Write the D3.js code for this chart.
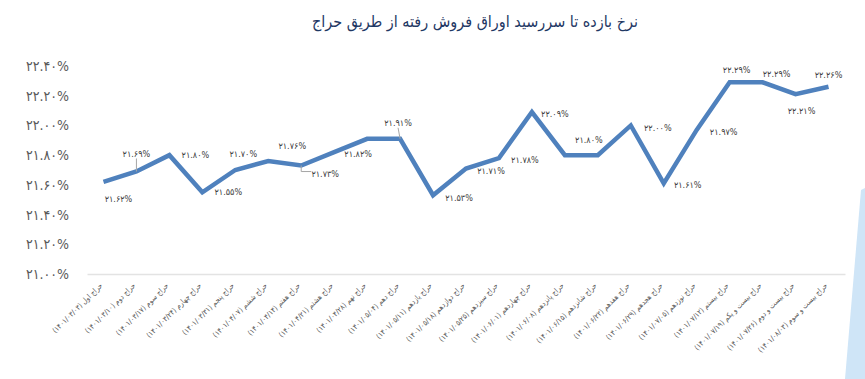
<!DOCTYPE html>
<html>
<head>
<meta charset="utf-8">
<script src="https://cdn.jsdelivr.net/npm/d3@7"></script>
<style>
  body { margin: 0; background: #fff; }
  text { font-family: "DejaVu Sans Condensed", "DejaVu Sans", sans-serif; }
</style>
</head>
<body>
<div class="chart"></div>
<script>
var title = 'نرخ بازده تا سررسید اوراق فروش رفته از طریق حراج'

var categories = [
  'حراج اول (1401/03/03)', 'حراج دوم (1401/03/10)', 'حراج سوم (1401/03/17)',
  'حراج چهارم (1401/03/24)', 'حراج پنجم (1401/03/31)', 'حراج ششم (1401/04/07)',
  'حراج هفتم (1401/04/14)', 'حراج هشتم (1401/04/21)', 'حراج نهم (1401/04/28)',
  'حراج دهم (1401/05/04)', 'حراج یازدهم (1401/05/11)', 'حراج دوازدهم (1401/05/18)',
  'حراج سیزدهم (1401/05/25)', 'حراج چهاردهم (1401/06/01)', 'حراج پانزدهم (1401/06/08)',
  'حراج شانزدهم (1401/06/15)', 'حراج هفدهم (1401/06/22)', 'حراج هجدهم (1401/06/29)',
  'حراج نوزدهم (1401/07/05)', 'حراج بیستم (1401/07/12)', 'حراج بیست و یکم (1401/07/19)',
  'حراج بیست و دوم (1401/07/26)', 'حراج بیست و سوم (1401/08/03)'
]

var yields = [21.62, 21.69, 21.80, 21.55, 21.70, 21.76, 21.73, 21.82, 21.91, 21.91, 21.53, 21.71,
  21.78, 22.09, 21.80, 21.80, 22.00, 21.61, 21.97, 22.29, 22.29, 22.21, 22.26]

var yTicks = [21.0, 21.2, 21.4, 21.6, 21.8, 22.0, 22.2, 22.4]

// where each data label sits relative to its point (null = label hidden by excel)
var labelNudge = [[15, 17], [0, -18], [26, 0], [26, 0], [8, -16], [24, -15], [24, 8], [24, 2],
  null, [-2, -16], [26, 3], [25, 2], [26, 2], [23, 2], [24, -15], null, [27, 2], [24, 1],
  [27, 2], [7, -12], [14, -8], [6, 17], [0, -12]]
var leaders = [1, 6, 9]

var fa = s => String(s).replace(/\d/g, d => '۰۱۲۳۴۵۶۷۸۹'[d])

var svg = d3.select('.chart')
  .append('svg')
    .attr('width', 865)
    .attr('height', 379)

// slide decoration on the right edge
svg.append('path')
  .attr('d', 'M861,190 L865,188 L865,379 L845,379 Z')
  .attr('fill', '#cfe5f7')

svg.append('text')
  .attr('x', 475)
  .attr('y', 27)
  .attr('text-anchor', 'middle')
  .attr('fill', '#1f3864')
  .style('font-size', '16px')
  .text(title)

var x = d3.scalePoint()
  .domain(categories)
  .range([87, 845])
  .padding(0.5)

var y = d3.scaleLinear()
  .domain([21, 22.4])
  .range([274, 66])

var yAxis = d3.axisLeft(y)
  .tickValues(yTicks)
  .tickSize(0)
  .tickPadding(0)
  .tickFormat(d => fa(d3.format('.2f')(d)) + '%')

svg.append('g')
  .attr('transform', 'translate(69, 0)')
  .call(yAxis)
  .call(g => g.select('.domain').remove())
  .selectAll('text')
    .attr('fill', '#595959')
    .style('font-size', '14px')

var xAxis = d3.axisBottom(x)
  .tickSize(0)
  .tickFormat(fa)

var gx = svg.append('g')
  .attr('transform', 'translate(0, 274)')
  .call(xAxis)

gx.select('.domain').attr('stroke', '#e3e3e3').attr('stroke-width', 1.5)
gx.selectAll('text')
  .attr('x', 0)
  .attr('y', 0)
  .attr('dy', 0)
  .attr('direction', 'rtl')
  .attr('text-anchor', 'start')
  .attr('transform', 'translate(-1, 12) rotate(-45)')
  .attr('fill', '#595959')
  .style('font-size', '7.5px')

var line = d3.line()
  .x((d, i) => x(categories[i]))
  .y(d => y(d))

svg.append('path')
  .datum(yields)
  .attr('d', line)
  .attr('fill', 'none')
  .attr('stroke', '#4f81bd')
  .attr('stroke-width', 4.5)
  .attr('stroke-linejoin', 'miter')

// leader lines
svg.selectAll('.leader')
  .data(leaders)
  .enter().append('polyline')
    .attr('points', i => {
      var px = x(categories[i]), py = y(yields[i])
      var n = labelNudge[i]
      if (n[1] > 0) return [[px, py], [px, py + n[1] - 2], [px + n[0] - 14, py + n[1] - 2]].join(' ')
      return [[px, py], [px + n[0], py + n[1] + 5]].join(' ')
    })
    .attr('fill', 'none')
    .attr('stroke', '#a6a6a6')
    .attr('stroke-width', 1)

var labelled = yields.map((v, i) => ({ v: v, i: i })).filter(d => labelNudge[d.i] !== null)

svg.selectAll('.lbl')
  .data(labelled)
  .enter().append('text')
    .attr('x', d => x(categories[d.i]) + labelNudge[d.i][0])
    .attr('y', d => y(d.v) + labelNudge[d.i][1])
    .attr('dy', '0.35em')
    .attr('text-anchor', 'middle')
    .attr('fill', '#404040')
    .style('font-size', '9px')
    .text(d => fa(d3.format('.2f')(d.v)) + '%')
</script>
</body>
</html>
